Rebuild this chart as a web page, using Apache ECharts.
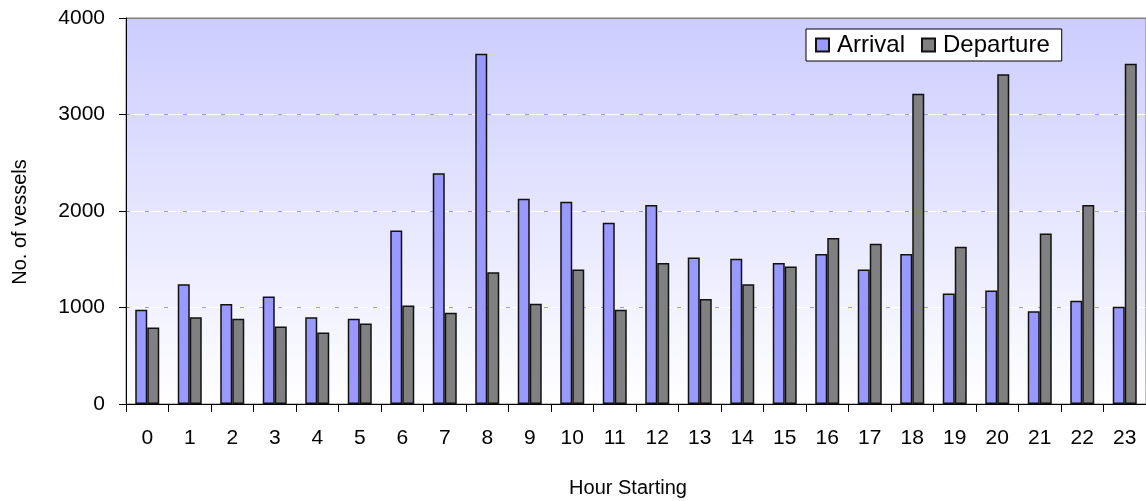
<!DOCTYPE html>
<html>
<head>
<meta charset="utf-8">
<script src="https://cdn.jsdelivr.net/npm/echarts@6/dist/echarts.min.js"></script>
<style>
html,body{margin:0;padding:0;background:#fff;}
#chart{width:1146px;height:501px;}
</style>
</head>
<body>
<div id="chart"></div>
<script>
var hours = ['0','1','2','3','4','5','6','7','8','9','10','11','12','13','14','15','16','17','18','19','20','21','22','23'];
var arrival = [977, 1240, 1036, 1115, 898, 884, 1799, 2390, 3630, 2127, 2096, 1879, 2062, 1519, 1506, 1461, 1554, 1395, 1554, 1146, 1177, 960, 1070, 1008];
var departure = [794, 898, 884, 804, 742, 835, 1022, 946, 1364, 1039, 1395, 977, 1461, 1088, 1240, 1426, 1720, 1661, 3215, 1630, 3416, 1768, 2062, 3526];
var seriesNames = ['Arrival', 'Departure'];
var yTitle = 'No. of vessels';
var xTitle = 'Hour Starting';

var FONT = '"Liberation Sans", Arial, sans-serif';
var chart = echarts.init(document.getElementById('chart'), null, {renderer: 'canvas'});
var grid = {left: 126, top: 18, width: 1022, height: 386};
chart.setOption({
  animation: false,
  backgroundColor: '#ffffff',
  textStyle: {fontFamily: FONT, color: '#000'},
  grid: {
    left: grid.left, top: grid.top, width: grid.width, height: grid.height,
    show: true,
    borderColor: '#808080', borderWidth: 1,
    backgroundColor: new echarts.graphic.LinearGradient(0, 0, 0, 1, [
      {offset: 0, color: '#ccccff'},
      {offset: 1, color: '#ffffff'}
    ])
  },
  legend: {
    data: seriesNames,
    left: 806, top: 29,
    orient: 'horizontal',
    backgroundColor: '#ffffff',
    borderColor: '#000', borderWidth: 1,
    padding: [4, 12, 4, 9],
    itemWidth: 13, itemHeight: 13, itemGap: 16,
    icon: 'rect',
    textStyle: {fontSize: 24, fontFamily: FONT, color: '#000', padding: [0, 0, 0, 3]}
  },
  xAxis: {
    type: 'category',
    data: hours,
    boundaryGap: true,
    axisLine: {show: true, lineStyle: {color: '#000', width: 1}},
    axisTick: {show: true, length: 8, inside: false, lineStyle: {color: '#000'}, alignWithLabel: false},
    axisLabel: {fontSize: 21, color: '#000', margin: 24, fontFamily: FONT},
    splitLine: {show: false}
  },
  yAxis: [{
    type: 'value', min: 0, max: 4000, interval: 1000,
    axisLine: {show: true, lineStyle: {color: '#000', width: 1}},
    axisTick: {show: true, length: 7, lineStyle: {color: '#000'}},
    axisLabel: {fontSize: 21, color: '#000', margin: 21, fontFamily: FONT, formatter: function (v) { return String(v); }},
    splitLine: {show: true, lineStyle: {color: ['#ffffff','#ffffff','#ffffff','#ffffff','#808080'], width: 1, type: 'solid'}}
  }, {
    type: 'value', min: 0, max: 4000, interval: 1000, position: 'left',
    axisLine: {show: false}, axisTick: {show: false}, axisLabel: {show: false},
    splitLine: {show: true, lineStyle: {color: ['rgba(0,0,0,0)','#9999ee','#9999ee','#9999ee','rgba(0,0,0,0)'], width: 1, type: [4, 15]}}
  }],
  series: [{
    name: seriesNames[0], type: 'bar', data: arrival,
    barWidth: 12, barGap: '0%',
    itemStyle: {color: '#9999ff', borderColor: '#111', borderWidth: 1.5}
  }, {
    name: seriesNames[1], type: 'bar', data: departure,
    barWidth: 12, barGap: '0%',
    itemStyle: {color: '#808080', borderColor: '#111', borderWidth: 1.5}
  }],
  graphic: [{
    type: 'text', x: 20, y: 222, rotation: Math.PI / 2,
    style: {text: yTitle, font: '20px ' + FONT, fill: '#000', textAlign: 'center', textVerticalAlign: 'middle'}
  }, {
    type: 'text', x: 628, y: 488,
    style: {text: xTitle, font: '20px ' + FONT, fill: '#000', textAlign: 'center', textVerticalAlign: 'middle'}
  }]
});
</script>
</body>
</html>
